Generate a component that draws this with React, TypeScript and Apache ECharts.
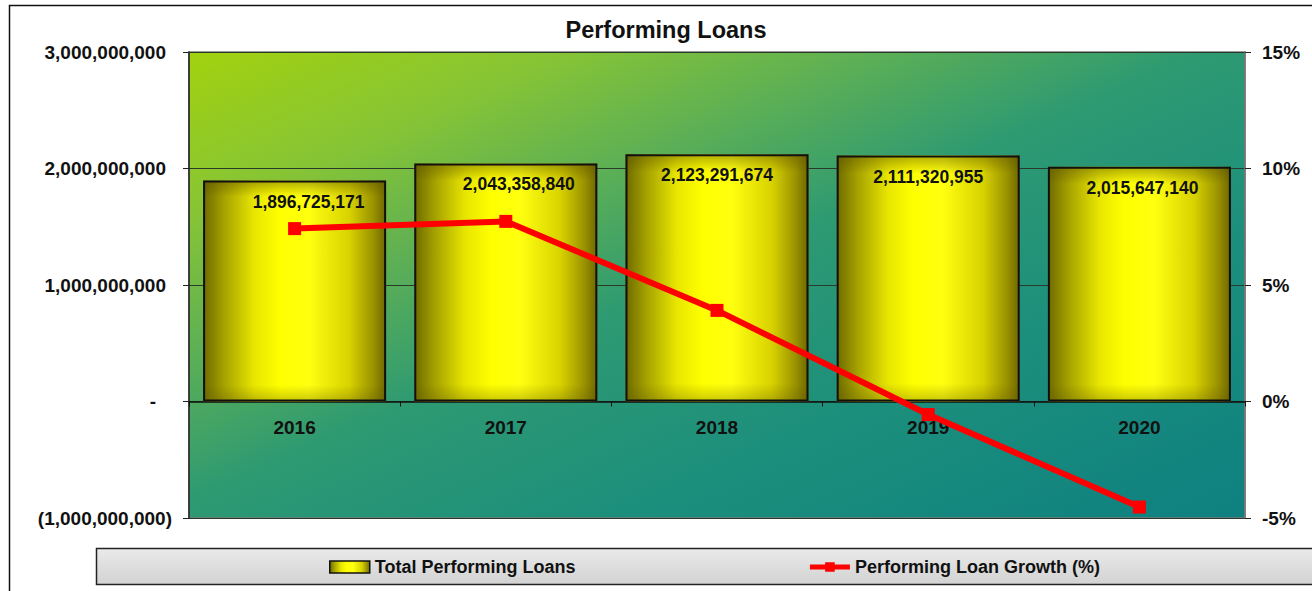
import React, { useEffect, useRef } from "react";
import * as echarts from "echarts";

const years = ["2016", "2017", "2018", "2019", "2020"];
const totalLoans = [1896725171, 2043358840, 2123291674, 2111320955, 2015647140];
const loanGrowth = [7.42, 7.73, 3.91, -0.56, -4.53];
const labelOffsetX = [14, 13, 0, 0, 3];

const FONT = 'Arial, "Liberation Sans", sans-serif';

const fmt = (v: number) => Math.round(v).toString().replace(/\B(?=(\d{3})+(?!\d))/g, ",");

export default function App() {
  const ref = useRef<HTMLDivElement>(null);
  useEffect(() => {
    if (!ref.current) return;
    const chart = echarts.init(ref.current, null, { renderer: "svg" });
    const barGrad = new echarts.graphic.LinearGradient(0, 0, 1, 0, [
      { offset: 0, color: "#6E6A00" },
      { offset: 0.12, color: "#A8A400" },
      { offset: 0.28, color: "#E8E600" },
      { offset: 0.42, color: "#FFFF00" },
      { offset: 0.58, color: "#FFFF10" },
      { offset: 0.8, color: "#D8D200" },
      { offset: 0.93, color: "#9A9200" },
      { offset: 1, color: "#6E6600" },
    ]);
    const shadeGrad = new echarts.graphic.LinearGradient(0, 0, 0, 1, [
      { offset: 0, color: "rgba(90,80,0,0.45)" },
      { offset: 0.07, color: "rgba(90,80,0,0)" },
      { offset: 0.93, color: "rgba(90,80,0,0)" },
      { offset: 1, color: "rgba(90,80,0,0.3)" },
    ]);
    const bgGrad = new echarts.graphic.LinearGradient(0, 0, 1, 1, [
      { offset: 0, color: "#A2D20E" },
      { offset: 0.18, color: "#86C436" },
      { offset: 0.32, color: "#5EB054" },
      { offset: 0.48, color: "#2E9A72" },
      { offset: 0.7, color: "#1C8F7C" },
      { offset: 1, color: "#0E8080" },
    ]);
    const option: any = {
      animation: false,
      backgroundColor: "#ffffff",
      title: {
        text: "Performing Loans",
        left: 661,
        textAlign: "center",
        top: 13,
        textStyle: { fontFamily: FONT, fontWeight: "bold", fontSize: 23.5, color: "#111" },
      },
      graphic: [
        {
          type: "rect",
          shape: { x: 9.5, y: 5.5, width: 1400, height: 700 },
          style: { fill: "none", stroke: "#111", lineWidth: 1.5 },
          silent: true,
          z: -10,
        },
        {
          type: "rect",
          shape: { x: 96.5, y: 548.5, width: 1300, height: 36 },
          style: {
            fill: new echarts.graphic.LinearGradient(0, 0, 0, 1, [
              { offset: 0, color: "#EAEAEA" },
              { offset: 1, color: "#D2D2D2" },
            ]),
            stroke: "#222",
            lineWidth: 1.5,
          },
          silent: true,
          z: -5,
        },
      ],
      legend: {
        left: 324,
        top: 553,
        itemGap: 232,
        itemWidth: 40,
        itemHeight: 12,
        textStyle: { fontFamily: FONT, fontWeight: "bold", fontSize: 18, color: "#111" },
        data: [
          {
            name: "Total Performing Loans",
            icon: "rect",
            itemStyle: { color: barGrad, borderColor: "#111", borderWidth: 1.5 },
          },
          {
            name: "Performing Loan Growth (%)",
            lineStyle: { color: "#FF0000", width: 5 },
            itemStyle: { color: "#FF0000" },
          },
        ],
      },
      grid: {
        left: 189,
        right: 67,
        top: 52,
        bottom: 73,
        show: true,
        backgroundColor: bgGrad,
        borderColor: "#7A7A7A",
        borderWidth: 1.5,
      },
      xAxis: {
        type: "category",
        data: years,
        position: "bottom",
        offset: -116.5,
        axisLine: { onZero: false, lineStyle: { color: "#111", width: 1.5 } },
        axisTick: { show: true, length: 5, lineStyle: { color: "#111" } },
        axisLabel: {
          margin: 16,
          fontFamily: FONT,
          fontWeight: "bold",
          fontSize: 19,
          color: "#111",
        },
      },
      yAxis: [
        {
          type: "value",
          min: -1000000000,
          max: 3000000000,
          interval: 1000000000,
          axisLine: { show: true, lineStyle: { color: "#222", width: 1.5 } },
          axisTick: { show: true, length: 6, lineStyle: { color: "#222" } },
          splitLine: { show: true, lineStyle: { color: "#2A3A2A", width: 1 } },
          axisLabel: {
            margin: 17,
            formatter: (v: number) =>
              v === 0 ? "{d|-}" : v < 0 ? "{n|(" + fmt(-v) + ")}" : "{p|" + fmt(v) + "}",
            rich: {
              d: { fontFamily: FONT, fontWeight: "bold", fontSize: 19, color: "#111", padding: [0, 16, 0, 0] },
              n: { fontFamily: FONT, fontWeight: "bold", fontSize: 19, color: "#111" },
              p: { fontFamily: FONT, fontWeight: "bold", fontSize: 19, color: "#111", padding: [0, 6, 0, 0] },
            },
          },
        },
        {
          type: "value",
          min: -5,
          max: 15,
          interval: 5,
          position: "right",
          axisLine: { show: true, lineStyle: { color: "#777", width: 1.5 } },
          axisTick: { show: true, length: 6, lineStyle: { color: "#222" } },
          splitLine: { show: false },
          axisLabel: {
            margin: 17,
            formatter: "{value}%",
            fontFamily: FONT,
            fontWeight: "bold",
            fontSize: 19,
            color: "#111",
          },
        },
      ],
      series: [
        {
          name: "Total Performing Loans",
          type: "bar",
          data: totalLoans,
          barWidth: 183,
          itemStyle: { color: barGrad },
          z: 2,
        },
        {
          name: "shade",
          type: "bar",
          data: totalLoans.map((v, i) => ({
            value: v,
            label: { offset: [labelOffsetX[i], 0] },
          })),
          barWidth: 183,
          barGap: "-100%",
          silent: true,
          itemStyle: { color: shadeGrad, borderColor: "#111", borderWidth: 2 },
          label: {
            show: true,
            position: "insideTop",
            distance: 12,
            formatter: (p: any) => fmt(p.value),
            fontFamily: FONT,
            fontWeight: "bold",
            fontSize: 17.5,
            color: "#111",
          },
          z: 3,
        },
        {
          name: "Performing Loan Growth (%)",
          type: "line",
          yAxisIndex: 1,
          data: loanGrowth,
          symbol: "rect",
          symbolSize: 13,
          lineStyle: { color: "#FF0000", width: 6 },
          itemStyle: { color: "#FF0000" },
          z: 5,
        },
      ],
    };
    chart.setOption(option);
    return () => chart.dispose();
  }, []);
  return (
    <div
      ref={ref}
      style={{ position: "absolute", left: 0, top: 0, width: 1312, height: 591 }}
    />
  );
}
